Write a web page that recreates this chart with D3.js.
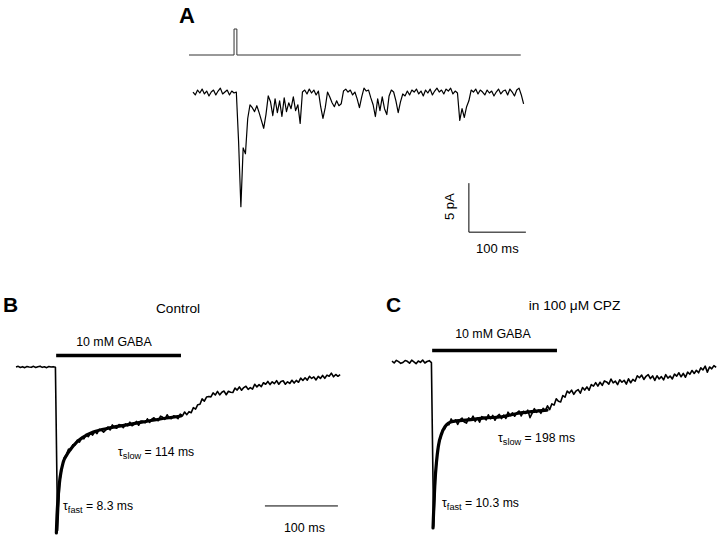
<!DOCTYPE html>
<html>
<head>
<meta charset="utf-8">
<script src="https://cdn.jsdelivr.net/npm/d3@7"></script>
<style>
  body { margin: 0; background: #fff; }
  text { font-family: "Liberation Sans", Arial, Helvetica, sans-serif; fill: #000; }
</style>
</head>
<body>
<div class="canvas"></div>
<script>
// ---- data ----
// panel A: stimulus command (ms, on/off) and evoked current (pA, sampled every 4 ms)
const stimTime  = [-7, 72, 72, 77, 77, 575];
const stimLevel = [0, 0, 1, 1, 0, 0];
const dtA = 4;
const traceA = [
  0.1, -0.2, 0.3, 0.0, 0.4, -0.1, 0.2, -0.3, 0.1, 0.3, -0.2, 0.2, 0.5, -0.1, 0.1, 0.3, -0.2, 0.2, 0.0,
  0.1, -5.0, -11.6, -5.6, -6.2, -2.6, -1.2, -1.5, -1.9, -1.3, -2.0,
  -2.8, -3.6, -2.2, -0.3, -0.9, -2.3, -0.6, -2.0, -0.8, -2.4,
  -0.5, -1.9, -1.0, -1.6, -0.4, -1.8, -1.2, -3.1, 0.1, 0.3,
  -0.1, 0.4, 0.0, 0.3, -0.2, 0.2, -1.4, -2.6, -1.5, 0.1,
  -0.4, -1.0, -1.4, -0.8, -1.3, -1.1, 0.2, 0.4, 0.1, 0.3,
  -0.2, 0.1, -0.6, -1.5, -0.4, 0.5, 0.2, 0.3, -0.5, -1.2,
  -2.4, -0.6, -1.8, -0.4, -1.6, -2.2, -0.3, 0.3, 0.1, -0.8,
  -2.0, -0.9, -0.1, -0.3, 0.2, -0.2, 0.3, 0.1, 0.4, -0.1,
  0.2, -0.3, 0.3, 0.0, 0.4, -0.2, 0.2, 0.5, 0.1, 0.3,
  -0.1, 0.4, 0.2, 0.5, -0.1, 0.2, 0.0, -2.8, -1.6, -2.5,
  -1.4, -0.8, 0.3, 0.1, 0.4, -0.1, 0.3, 0.1, -0.2, 0.3,
  0.0, 0.2, -0.3, 0.1, 0.4, -0.1, 0.2, 0.3, -0.2, 0.4,
  0.1, -0.3, 0.3, 0.5, -0.2, -1.1
];

// panels B and C: normalised GABA current, sampled every 3 ms
const dtBC = 3;
const gabaOn = [55, 226];   // ms, 10 mM GABA application
const traceB = [
  0, 0.004, -0.003, 0.002, -0.004, 0.003, 0, -0.002, 0.004, -0.003, 0.002, 0.005, -0.002, 0.001, -0.004, 0.003, 0, 0.002, -0.001,
  -0.985, -0.690, -0.605, -0.548, -0.528, -0.495, -0.498, -0.468, -0.470, -0.441,
  -0.452, -0.425, -0.433, -0.405, -0.420, -0.398, -0.410,
  -0.389, -0.401, -0.375, -0.380, -0.393, -0.379, -0.362, -0.379, -0.349, -0.364,
  -0.369, -0.347, -0.351, -0.366, -0.343, -0.354, -0.332, -0.354, -0.344, -0.328,
  -0.351, -0.326, -0.329, -0.336, -0.312, -0.334, -0.314, -0.306, -0.319, -0.323,
  -0.296, -0.303, -0.315, -0.288, -0.308, -0.311, -0.294, -0.300, -0.311, -0.284,
  -0.294, -0.271, -0.287, -0.269, -0.275, -0.245, -0.254, -0.227, -0.224, -0.192,
  -0.206, -0.181, -0.178, -0.180, -0.156, -0.169, -0.147, -0.168, -0.152, -0.145,
  -0.167, -0.146, -0.152, -0.154, -0.127, -0.139, -0.120, -0.140, -0.124, -0.116,
  -0.135, -0.124, -0.133, -0.104, -0.120, -0.106, -0.118, -0.095, -0.104, -0.087,
  -0.106, -0.089, -0.100, -0.082, -0.104, -0.087, -0.083, -0.104, -0.089, -0.099,
  -0.080, -0.097, -0.081, -0.092, -0.067, -0.081, -0.065, -0.079, -0.056, -0.069,
  -0.060, -0.078, -0.057, -0.069, -0.051, -0.068, -0.049, -0.056, -0.037, -0.059,
  -0.045, -0.056, -0.046
];
const traceC = [
  0.005, -0.006, 0.010, 0.002, -0.008, -0.003, 0.009, 0.004, -0.007, 0.011, 0.001, -0.010, 0.006, -0.002, 0.012, -0.006, 0.003, 0.008, -0.004,
  -0.990, -0.655, -0.505, -0.468, -0.410, -0.405, -0.378,
  -0.378, -0.343, -0.363, -0.349, -0.376, -0.349, -0.338, -0.362, -0.368, -0.337,
  -0.350, -0.326, -0.358, -0.337, -0.363, -0.329, -0.336, -0.349, -0.318, -0.342,
  -0.322, -0.351, -0.327, -0.316, -0.341, -0.320, -0.340, -0.302, -0.323, -0.306,
  -0.327, -0.307, -0.295, -0.325, -0.297, -0.310, -0.290, -0.335, -0.308, -0.281,
  -0.303, -0.289, -0.309, -0.279, -0.292, -0.264, -0.287, -0.252, -0.260, -0.222,
  -0.237, -0.241, -0.202, -0.212, -0.175, -0.187, -0.170, -0.195, -0.175, -0.166,
  -0.188, -0.154, -0.169, -0.150, -0.170, -0.136, -0.145, -0.124, -0.145, -0.122,
  -0.141, -0.114, -0.120, -0.133, -0.103, -0.126, -0.115, -0.136, -0.107, -0.122,
  -0.110, -0.133, -0.101, -0.125, -0.105, -0.116, -0.083, -0.095, -0.079, -0.105,
  -0.086, -0.076, -0.100, -0.084, -0.111, -0.083, -0.102, -0.088, -0.108, -0.076,
  -0.097, -0.085, -0.102, -0.073, -0.085, -0.065, -0.089, -0.069, -0.092, -0.061,
  -0.074, -0.051, -0.069, -0.050, -0.065, -0.035, -0.048, -0.025, -0.061, -0.030,
  -0.041, -0.022, -0.033
];

// bi-exponential fits drawn over the decay [ms, normalised current]
const fitB = [[55.3, -1.0], [55.8, -0.934], [57.9, -0.771], [60.3, -0.669], [64.8, -0.572], [69.5, -0.53],
  [74, -0.5], [83.2, -0.452], [92.2, -0.422], [105.9, -0.392], [128.8, -0.367], [151.6, -0.349],
  [174, -0.331], [197.3, -0.313], [226, -0.295]];
const fitC = [[56.2, -1.0], [56.6, -0.95], [57.5, -0.85], [58.9, -0.72], [61, -0.6], [63.4, -0.51],
  [68.1, -0.43], [72.6, -0.39], [77.1, -0.369], [81.8, -0.36], [104.5, -0.349], [127.4, -0.337],
  [150.3, -0.33], [173, -0.309], [191.4, -0.299], [212.3, -0.29]];

const panelTitles = ['Control', 'in 100 \u03bcM CPZ'];
const tauSlow = ['114 ms', '198 ms'];
const tauFast = ['8.3 ms', '10.3 ms'];
const scaleBarA = { ms: 100, pA: 5 };
const scaleBarB = { ms: 100 };

// ---- drawing ----
const svg = d3.select('.canvas').append('svg')
  .attr('width', 720)
  .attr('height', 535);

// panel A
const xA = d3.scaleLinear().domain([0, 580]).range([193, 523.6]);
const yA = d3.scaleLinear().domain([0, -12]).range([93, 210.6]);
const yStim = d3.scaleLinear().domain([0, 1]).range([55, 29]);

svg.append('text').attr('x', 179).attr('y', 23)
  .attr('font-size', 22).attr('font-weight', 'bold').text('A');

svg.append('path')
  .attr('d', d3.line().x((d, i) => xA(stimTime[i])).y(d => yStim(d))(stimLevel))
  .attr('fill', 'none').attr('stroke', '#333').attr('stroke-width', 1);

svg.append('path')
  .attr('d', d3.line().x((d, i) => xA(i * dtA)).y(d => yA(d))(traceA))
  .attr('fill', 'none').attr('stroke', '#000').attr('stroke-width', 1.2)
  .attr('stroke-linejoin', 'round');

// scale bar A (anchored at 484 ms, -14.2 pA)
const barA = svg.append('g');
barA.append('path')
  .attr('d', `M${xA(484)},${yA(-14.2 + scaleBarA.pA)}V${yA(-14.2)}H${xA(484 + scaleBarA.ms)}`)
  .attr('fill', 'none').attr('stroke', '#000').attr('stroke-width', 1);
barA.append('text')
  .attr('x', (xA(484) + xA(484 + scaleBarA.ms)) / 2).attr('y', 253)
  .attr('text-anchor', 'middle').attr('font-size', 13).text(scaleBarA.ms + ' ms');
barA.append('text')
  .attr('transform', `translate(454, ${(yA(-14.2) + yA(-14.2 + scaleBarA.pA)) / 2 - 1}) rotate(-90)`)
  .attr('text-anchor', 'middle').attr('font-size', 13).text(scaleBarA.pA + ' pA');

// panels B and C
const panels = [
  { letter: 'B', lx: 3, x0: 16, y0: 367, trace: traceB, fit: fitB, titleT: 222, titleY: 312.5,
    gabaX: 114, gabaY: 346, slow: [118, 455.5], fast: [63, 510] },
  { letter: 'C', lx: 386, x0: 392, y0: 362, trace: traceC, fit: fitC, titleT: 250, titleY: 309.5,
    gabaX: 493, gabaY: 338, slow: [498, 442], fast: [442, 507] }
];

panels.forEach((p, k) => {
  const x = d3.scaleLinear().domain([0, 446]).range([p.x0, p.x0 + 0.73 * 446]);
  const y = d3.scaleLinear().domain([0, -1]).range([p.y0, p.y0 + 166]);
  const g = svg.append('g');

  g.append('text').attr('x', p.lx).attr('y', 312)
    .attr('font-size', 21).attr('font-weight', 'bold').text(p.letter);

  g.append('text').attr('x', x(p.titleT)).attr('y', p.titleY)
    .attr('text-anchor', 'middle').attr('font-size', 13.7).text(panelTitles[k]);

  // GABA application bar
  g.append('line')
    .attr('x1', x(gabaOn[0])).attr('x2', x(gabaOn[1]))
    .attr('y1', y(0.07)).attr('y2', y(0.07))
    .attr('stroke', '#000').attr('stroke-width', 3.5);
  g.append('text').attr('x', p.gabaX).attr('y', p.gabaY)
    .attr('text-anchor', 'middle').attr('font-size', 12.4).text('10 mM GABA');

  // recorded current
  g.append('path')
    .attr('d', d3.line().x((d, i) => x(i * dtBC)).y(d => y(d))(p.trace))
    .attr('fill', 'none').attr('stroke', '#000').attr('stroke-width', 1.6)
    .attr('stroke-linejoin', 'round');

  // fit
  g.append('path')
    .attr('d', d3.line().x(d => x(d[0])).y(d => y(d[1])).curve(d3.curveMonotoneX)(p.fit))
    .attr('fill', 'none').attr('stroke', '#000').attr('stroke-width', 3.2)
    .attr('stroke-linecap', 'round');

  // tau labels
  const tau = (pos, sub, val) => {
    const t = g.append('text').attr('x', pos[0]).attr('y', pos[1]).attr('font-size', 12.2);
    t.append('tspan').text('\u03c4');
    t.append('tspan').attr('font-size', 9.2).attr('dy', 3).text(sub);
    t.append('tspan').attr('dy', -3).text(' = ' + val);
  };
  tau(p.slow, 'slow', tauSlow[k]);
  tau(p.fast, 'fast', tauFast[k]);

  // time scale bar only in B
  if (k === 0) {
    g.append('line')
      .attr('x1', x(341)).attr('x2', x(341 + scaleBarB.ms))
      .attr('y1', y(-0.837)).attr('y2', y(-0.837))
      .attr('stroke', '#000').attr('stroke-width', 1);
    g.append('text').attr('x', (x(341) + x(341 + scaleBarB.ms)) / 2 + 3).attr('y', 531.5)
      .attr('text-anchor', 'middle').attr('font-size', 12.5).text(scaleBarB.ms + ' ms');
  }
});
</script>
</body>
</html>
